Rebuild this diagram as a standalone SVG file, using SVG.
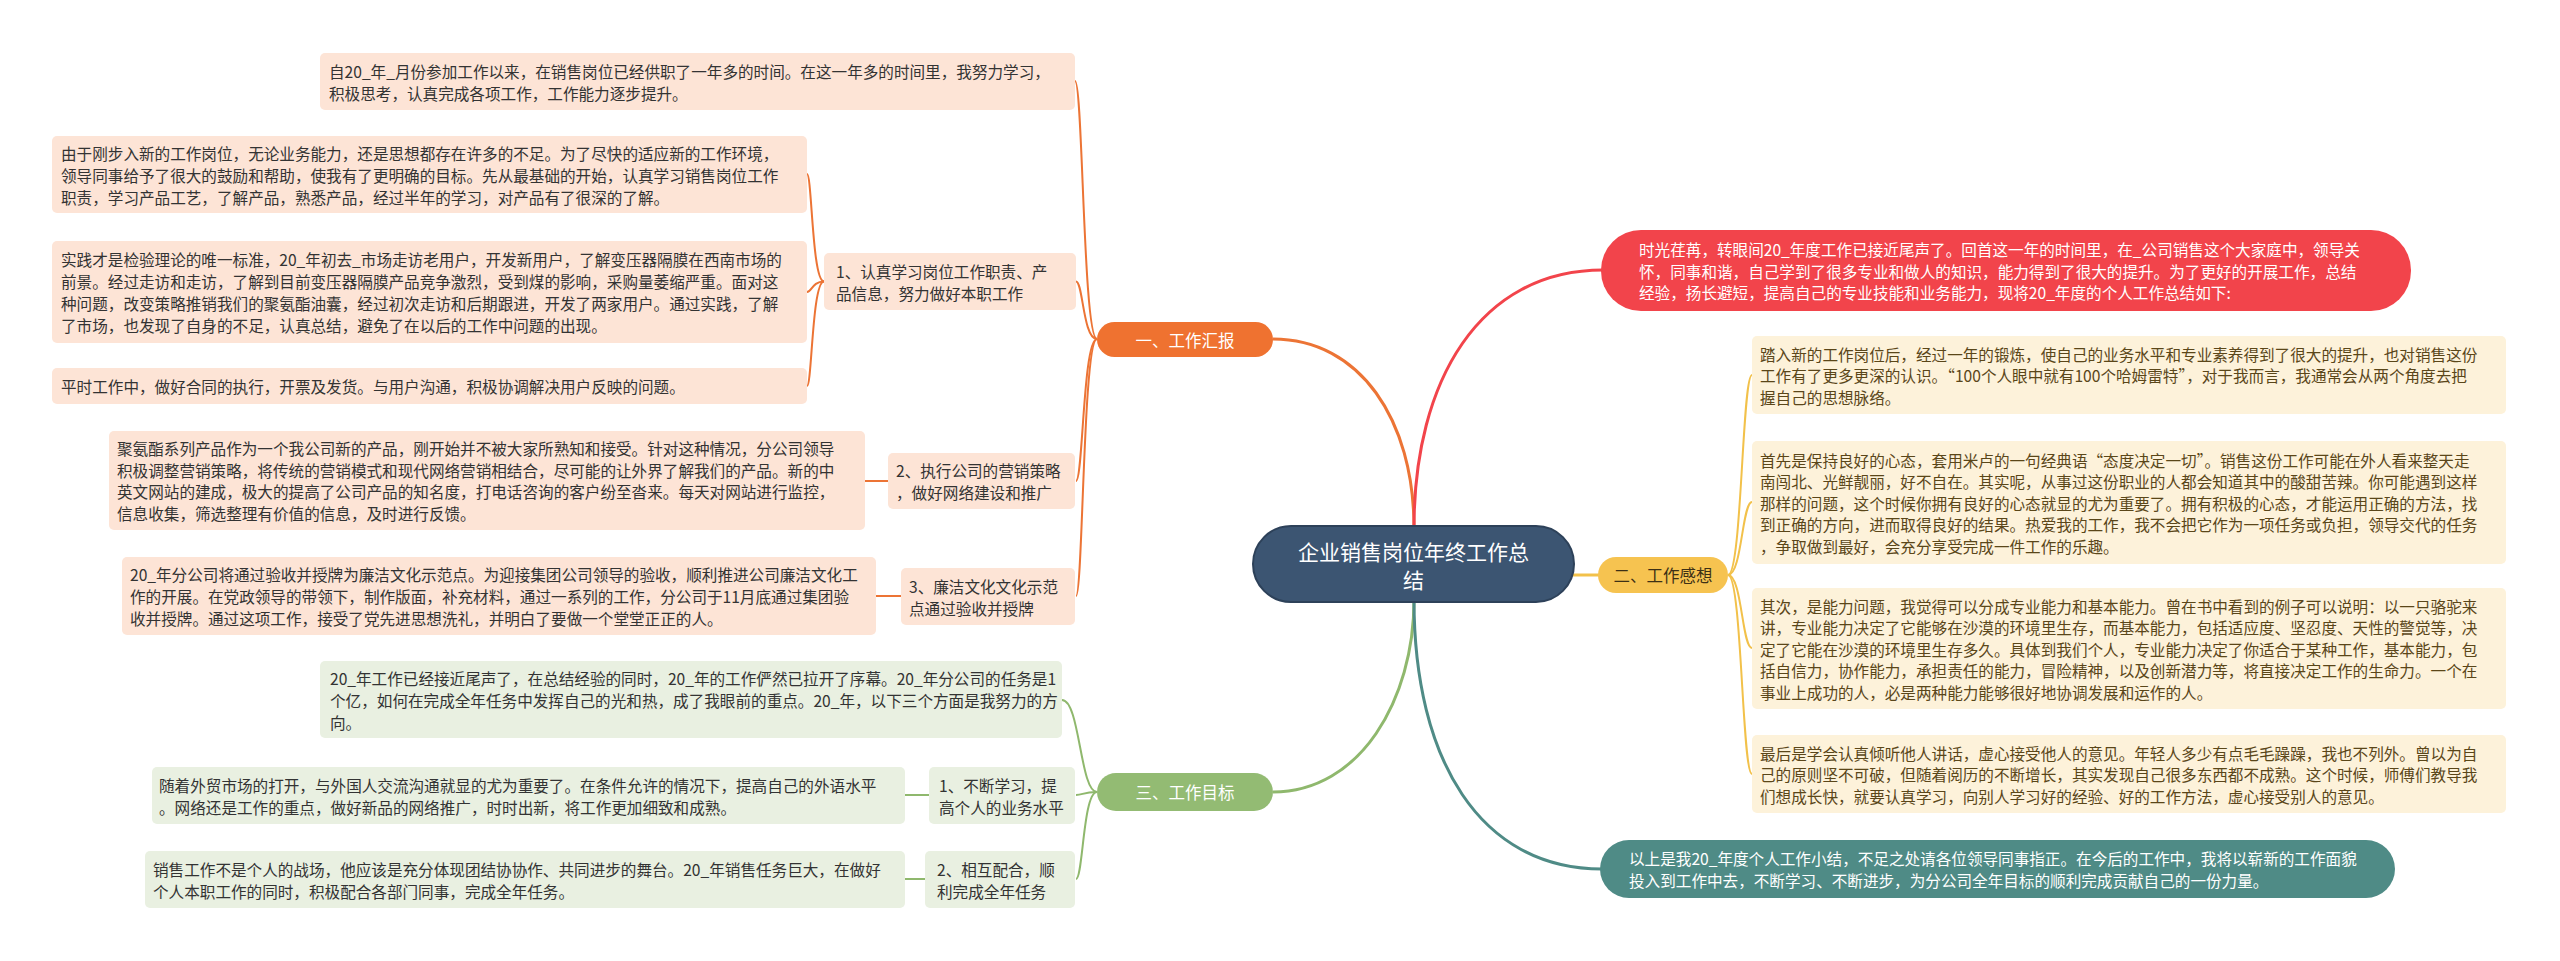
<svg xmlns="http://www.w3.org/2000/svg" width="2560" height="961" viewBox="0 0 2560 961">
<style>
text{font-family:"Noto Sans CJK SC","Microsoft YaHei",sans-serif;dominant-baseline:central;}
.t{font-size:15.6px;fill:#333333;}
.ty{font-size:15.6px;fill:#5a4619;}
.tw{font-size:15.6px;fill:#ffffff;}
.bo{fill:#fde4d6;}
.bg{fill:#e9f0e1;}
.by{fill:#fdf2da;}
.co{fill:none;stroke:#ec7435;stroke-width:2;}
.cg{fill:none;stroke:#8fb86d;stroke-width:2;}
.cy{fill:none;stroke:#f2c14a;stroke-width:2;}
.cm{fill:none;stroke-width:3;}
.l1{font-size:16.5px;}
</style>
<rect width="2560" height="961" fill="#ffffff"/>
<g id="connectors">
<path class="cm" stroke="#ec7435" d="M1414 528 C1414 420 1360 339 1273 339"/>
<path class="cm" stroke="#f2444b" d="M1414 528 C1414 380 1480 270 1603 270"/>
<path class="cm" stroke="#f2c14a" d="M1572 575 L1600 575"/>
<path class="cm" stroke="#8fb86d" d="M1414 600 C1414 700 1360 792 1273 792"/>
<path class="cm" stroke="#4f8b86" d="M1414 600 C1414 760 1480 869 1602 869"/>
<path class="co" d="M1097 339 C1083 339 1083 81 1075 81"/>
<path class="co" d="M1097 339 C1083 339 1083 281.5 1076 281.5"/>
<path class="co" d="M1097 339 C1083 339 1083 481 1076 481"/>
<path class="co" d="M1097 339 C1083 339 1083 596 1076 596"/>
<path class="co" d="M824 281.5 C812 281.5 812 174 807 174"/>
<path class="co" d="M824 281.5 C812 281.5 812 292 807 292"/>
<path class="co" d="M824 281.5 C812 281.5 812 386 807 386"/>
<path class="co" d="M888 481 L865 481"/>
<path class="co" d="M901 596 L876 596"/>
<path class="cg" d="M1097 792 C1080 792 1080 700 1062 700"/>
<path class="cg" d="M1097 792 C1083 792 1083 795 1076 795"/>
<path class="cg" d="M1097 792 C1083 792 1083 879 1076 879"/>
<path class="cg" d="M929 795 L905 795"/>
<path class="cg" d="M925 879 L905 879"/>
<path class="cy" d="M1728 575 C1742 575 1742 375 1752 375"/>
<path class="cy" d="M1728 575 C1742 575 1742 502 1752 502"/>
<path class="cy" d="M1728 575 C1742 575 1742 648 1752 648"/>
<path class="cy" d="M1728 575 C1742 575 1742 774 1752 774"/>
</g>
<g id="center">
<rect x="1253" y="526" width="321" height="76" rx="38" fill="#3c5572" stroke="#2d4159" stroke-width="2"/>
<text x="1413.5" y="551" font-size="21px" fill="#ffffff" text-anchor="middle">企业销售岗位年终工作总</text>
<text x="1413.5" y="579" font-size="21px" fill="#ffffff" text-anchor="middle">结</text>
</g>
<g id="n-gongzuohuibao">
<rect x="1097" y="322" width="176" height="35" rx="17.5" fill="#ef7230"/>
<text x="1185" y="339.5" class="l1" fill="#ffffff" text-anchor="middle">一、工作汇报</text>
</g>
<g id="n-ganxiang">
<rect x="1598" y="557" width="130" height="36" rx="18" fill="#f6c350"/>
<text x="1663" y="575" class="l1" fill="#3d3015" text-anchor="middle">二、工作感想</text>
</g>
<g id="n-mubiao">
<rect x="1097" y="773" width="176" height="38" rx="19" fill="#93bb73"/>
<text x="1185" y="792" class="l1" fill="#ffffff" text-anchor="middle">三、工作目标</text>
</g>
<g id="n-intro">
<rect x="1601" y="230" width="810" height="81" rx="40" fill="#f2444b"/>
<text class="tw" x="1639" y="249">时光荏苒，转眼间20_年度工作已接近尾声了。回首这一年的时间里，在_公司销售这个大家庭中，领导关</text>
<text class="tw" x="1639" y="270.5">怀，同事和谐，自己学到了很多专业和做人的知识，能力得到了很大的提升。为了更好的开展工作，总结</text>
<text class="tw" x="1639" y="292">经验，扬长避短，提高自己的专业技能和业务能力，现将20_年度的个人工作总结如下:</text>
</g>
<g id="n-ending">
<rect x="1600" y="840" width="795" height="58" rx="29" fill="#4f8b86"/>
<text class="tw" x="1629" y="858">以上是我20_年度个人工作小结，不足之处请各位领导同事指正。在今后的工作中，我将以崭新的工作面貌</text>
<text class="tw" x="1629" y="880">投入到工作中去，不断学习、不断进步，为分公司全年目标的顺利完成贡献自己的一份力量。</text>
</g>
<g id="b1">
<rect class="bo" x="320" y="53" width="755" height="57" rx="5"/>
<text class="t" x="329" y="71">自20_年_月份参加工作以来，在销售岗位已经供职了一年多的时间。在这一年多的时间里，我努力学习，</text>
<text class="t" x="329" y="93">积极思考，认真完成各项工作，工作能力逐步提升。</text>
</g>
<g id="l1">
<rect class="bo" x="824" y="253" width="252" height="57" rx="5"/>
<text class="t" x="836" y="270.5">1、认真学习岗位工作职责、产</text>
<text class="t" x="836" y="292.5">品信息，努力做好本职工作</text>
</g>
<g id="b2">
<rect class="bo" x="52" y="136" width="755" height="77" rx="5"/>
<text class="t" x="61" y="152.5">由于刚步入新的工作岗位，无论业务能力，还是思想都存在许多的不足。为了尽快的适应新的工作环境，</text>
<text class="t" x="61" y="174.5">领导同事给予了很大的鼓励和帮助，使我有了更明确的目标。先从最基础的开始，认真学习销售岗位工作</text>
<text class="t" x="61" y="196.5">职责，学习产品工艺，了解产品，熟悉产品，经过半年的学习，对产品有了很深的了解。</text>
</g>
<g id="b3">
<rect class="bo" x="52" y="241" width="755" height="102" rx="5"/>
<text class="t" x="61" y="259">实践才是检验理论的唯一标准，20_年初去_市场走访老用户，开发新用户，了解变压器隔膜在西南市场的</text>
<text class="t" x="61" y="281">前景。经过走访和走访，了解到目前变压器隔膜产品竞争激烈，受到煤的影响，采购量萎缩严重。面对这</text>
<text class="t" x="61" y="303">种问题，改变策略推销我们的聚氨酯油囊，经过初次走访和后期跟进，开发了两家用户。通过实践，了解</text>
<text class="t" x="61" y="325">了市场，也发现了自身的不足，认真总结，避免了在以后的工作中问题的出现。</text>
</g>
<g id="b4">
<rect class="bo" x="52" y="368" width="755" height="36" rx="5"/>
<text class="t" x="61" y="386">平时工作中，做好合同的执行，开票及发货。与用户沟通，积极协调解决用户反映的问题。</text>
</g>
<g id="l2">
<rect class="bo" x="888" y="453" width="187" height="56" rx="5"/>
<text class="t" x="896" y="470">2、执行公司的营销策略</text>
<text class="t" x="896" y="492">，做好网络建设和推广</text>
</g>
<g id="b5">
<rect class="bo" x="109" y="431" width="756" height="99" rx="5"/>
<text class="t" x="117" y="448">聚氨酯系列产品作为一个我公司新的产品，刚开始并不被大家所熟知和接受。针对这种情况，分公司领导</text>
<text class="t" x="117" y="469.5">积极调整营销策略，将传统的营销模式和现代网络营销相结合，尽可能的让外界了解我们的产品。新的中</text>
<text class="t" x="117" y="491">英文网站的建成，极大的提高了公司产品的知名度，打电话咨询的客户纷至沓来。每天对网站进行监控，</text>
<text class="t" x="117" y="512.5">信息收集，筛选整理有价值的信息，及时进行反馈。</text>
</g>
<g id="l3">
<rect class="bo" x="901" y="568" width="174" height="57" rx="5"/>
<text class="t" x="909" y="585.5">3、廉洁文化文化示范</text>
<text class="t" x="909" y="607.5">点通过验收并授牌</text>
</g>
<g id="b6">
<rect class="bo" x="122" y="557" width="754" height="78" rx="5"/>
<text class="t" x="130" y="574">20_年分公司将通过验收并授牌为廉洁文化示范点。为迎接集团公司领导的验收，顺利推进公司廉洁文化工</text>
<text class="t" x="130" y="596">作的开展。在党政领导的带领下，制作版面，补充材料，通过一系列的工作，分公司于11月底通过集团验</text>
<text class="t" x="130" y="618">收并授牌。通过这项工作，接受了党先进思想洗礼，并明白了要做一个堂堂正正的人。</text>
</g>
<g id="b7">
<rect class="bg" x="320" y="661" width="742" height="77" rx="5"/>
<text class="t" x="330" y="677.5">20_年工作已经接近尾声了，在总结经验的同时，20_年的工作俨然已拉开了序幕。20_年分公司的任务是1</text>
<text class="t" x="330" y="699.5">个亿，如何在完成全年任务中发挥自己的光和热，成了我眼前的重点。20_年，以下三个方面是我努力的方</text>
<text class="t" x="330" y="721.5">向。</text>
</g>
<g id="l4">
<rect class="bg" x="929" y="767" width="146" height="57" rx="5"/>
<text class="t" x="939" y="784.5">1、不断学习，提</text>
<text class="t" x="939" y="806.5">高个人的业务水平</text>
</g>
<g id="b8">
<rect class="bg" x="152" y="767" width="753" height="57" rx="5"/>
<text class="t" x="159" y="784.5">随着外贸市场的打开，与外国人交流沟通就显的尤为重要了。在条件允许的情况下，提高自己的外语水平</text>
<text class="t" x="159" y="806.5">。网络还是工作的重点，做好新品的网络推广，时时出新，将工作更加细致和成熟。</text>
</g>
<g id="l5">
<rect class="bg" x="925" y="851" width="150" height="57" rx="5"/>
<text class="t" x="937" y="868.5">2、相互配合，顺</text>
<text class="t" x="937" y="890.5">利完成全年任务</text>
</g>
<g id="b9">
<rect class="bg" x="145" y="851" width="760" height="57" rx="5"/>
<text class="t" x="153" y="868.5">销售工作不是个人的战场，他应该是充分体现团结协协作、共同进步的舞台。20_年销售任务巨大，在做好</text>
<text class="t" x="153" y="890.5">个人本职工作的同时，积极配合各部门同事，完成全年任务。</text>
</g>
<g id="r1">
<rect class="by" x="1752" y="336" width="754" height="78" rx="5"/>
<text class="ty" x="1760" y="353.5">踏入新的工作岗位后，经过一年的锻炼，使自己的业务水平和专业素养得到了很大的提升，也对销售这份</text>
<text class="ty" x="1760" y="375">工作有了更多更深的认识。“100个人眼中就有100个哈姆雷特”，对于我而言，我通常会从两个角度去把</text>
<text class="ty" x="1760" y="396.5">握自己的思想脉络。</text>
</g>
<g id="r2">
<rect class="by" x="1752" y="441" width="754" height="123" rx="5"/>
<text class="ty" x="1760" y="459.5">首先是保持良好的心态，套用米卢的一句经典语“态度决定一切”。销售这份工作可能在外人看来整天走</text>
<text class="ty" x="1760" y="481">南闯北、光鲜靓丽，好不自在。其实呢，从事过这份职业的人都会知道其中的酸甜苦辣。你可能遇到这样</text>
<text class="ty" x="1760" y="502.5">那样的问题，这个时候你拥有良好的心态就显的尤为重要了。拥有积极的心态，才能运用正确的方法，找</text>
<text class="ty" x="1760" y="524">到正确的方向，进而取得良好的结果。热爱我的工作，我不会把它作为一项任务或负担，领导交代的任务</text>
<text class="ty" x="1760" y="545.5">，争取做到最好，会充分享受完成一件工作的乐趣。</text>
</g>
<g id="r3">
<rect class="by" x="1752" y="588" width="754" height="121" rx="5"/>
<text class="ty" x="1760" y="605.5">其次，是能力问题，我觉得可以分成专业能力和基本能力。曾在书中看到的例子可以说明：以一只骆驼来</text>
<text class="ty" x="1760" y="627">讲，专业能力决定了它能够在沙漠的环境里生存，而基本能力，包括适应度、坚忍度、天性的警觉等，决</text>
<text class="ty" x="1760" y="648.5">定了它能在沙漠的环境里生存多久。具体到我们个人，专业能力决定了你适合于某种工作，基本能力，包</text>
<text class="ty" x="1760" y="670">括自信力，协作能力，承担责任的能力，冒险精神，以及创新潜力等，将直接决定工作的生命力。一个在</text>
<text class="ty" x="1760" y="691.5">事业上成功的人，必是两种能力能够很好地协调发展和运作的人。</text>
</g>
<g id="r4">
<rect class="by" x="1752" y="735" width="754" height="78" rx="5"/>
<text class="ty" x="1760" y="752.5">最后是学会认真倾听他人讲话，虚心接受他人的意见。年轻人多少有点毛毛躁躁，我也不列外。曾以为自</text>
<text class="ty" x="1760" y="774">己的原则坚不可破，但随着阅历的不断增长，其实发现自己很多东西都不成熟。这个时候，师傅们教导我</text>
<text class="ty" x="1760" y="795.5">们想成长快，就要认真学习，向别人学习好的经验、好的工作方法，虚心接受别人的意见。</text>
</g>
</svg>
